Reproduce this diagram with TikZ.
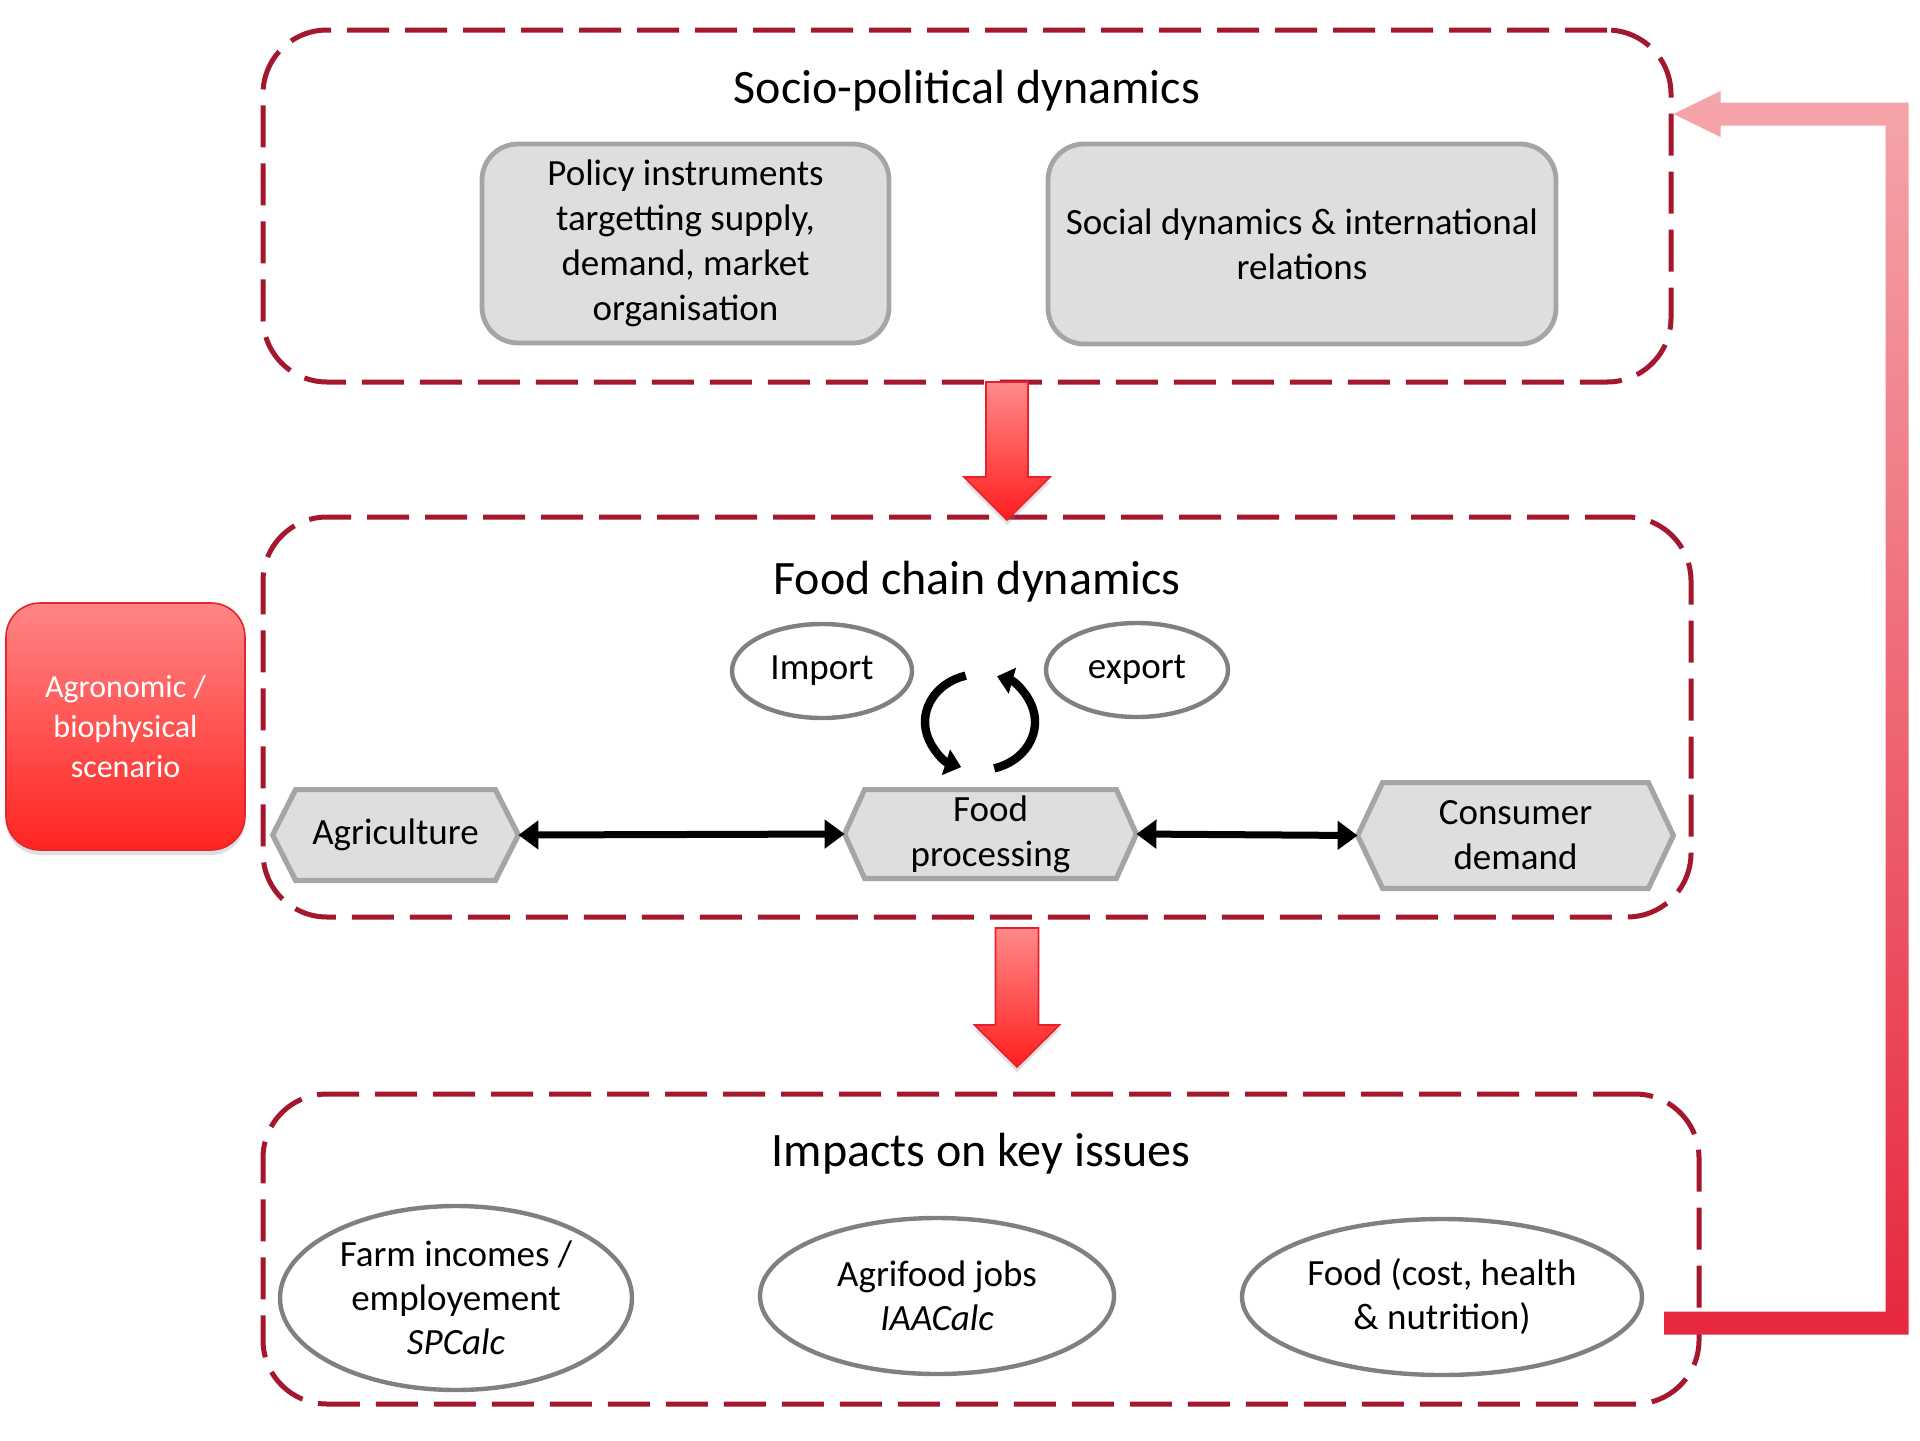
\documentclass[tikz,border=0pt]{standalone}
\usepackage{fontspec}
\setmainfont{Carlito}
\usetikzlibrary{arrows.meta,calc,shapes.geometric,shadows,backgrounds}
\definecolor{dashred}{HTML}{A5172C}
\definecolor{gfill}{HTML}{DEDEDE}
\definecolor{gborder}{HTML}{A5A5A5}
\definecolor{egray}{HTML}{808080}
\definecolor{barrowtop}{HTML}{FF8A8A}
\definecolor{barrowbot}{HTML}{FF1E1E}
\definecolor{barrowline}{HTML}{E8202E}
\definecolor{agtop}{HTML}{FF8585}
\definecolor{agbot}{HTML}{FF2420}
\definecolor{agline}{HTML}{E0262E}
\definecolor{fbtop}{HTML}{F5A5AB}
\definecolor{fbbot}{HTML}{E6283D}
\newcommand\hexpath[2]{%
  \path[hexshape] (#1.west) -- ([xshift=#2]#1.north west) -- ([xshift=-#2]#1.north east)
    -- (#1.east) -- ([xshift=-#2]#1.south east) -- ([xshift=#2]#1.south west) -- cycle;}
\begin{document}
\begin{tikzpicture}[x=0.5pt,y=-0.5pt,
  cont/.style={rectangle, draw=dashred, line width=2.5pt, dash pattern=on 21pt off 8pt, rounded corners=32pt, inner sep=0pt},
  title/.style={font=\fontsize{24}{29}\selectfont, inner sep=0pt},
  gbox/.style={rectangle, draw=gborder, fill=gfill, line width=2.4pt, rounded corners=18pt, align=center, font=\fontsize{18.5}{22.5}\selectfont, inner sep=0pt},
  ell/.style={ellipse, draw=egray, line width=2.2pt, fill=white, align=center, font=\fontsize{18.5}{22}\selectfont, inner sep=0pt},
  hexnode/.style={rectangle, inner sep=0pt, align=center, font=\fontsize{18.5}{22.5}\selectfont},
  hexshape/.style={draw=gborder, fill=gfill, line width=2.6pt, line join=miter},
  dbl/.style={{Triangle[length=10pt,width=14pt]}-{Triangle[length=10pt,width=14pt]}, line width=3.5pt},
  cycarrow/.style={-{Triangle[length=8pt,width=13pt]}, line width=4.2pt},
  blockarrow/.style={top color=barrowtop, bottom color=barrowbot, draw=barrowline, line width=0.8pt,
     drop shadow={shadow xshift=0pt, shadow yshift=-2.5pt, opacity=0.25}},
  fbarrow/.style={top color=fbtop, bottom color=fbbot},
]
\useasboundingbox (0,0) rectangle (1920,1440);

% containers
\node[cont, minimum width=704pt, minimum height=176pt] (top) at (967,206) {};
\node[cont, minimum width=714pt, minimum height=200pt] (mid) at (977,717) {};
\node[cont, minimum width=718pt, minimum height=155pt] (bot) at (981,1249) {};

\node[title] (toptitle) at (967,91) {Socio-political dynamics};
\node[title] (midtitle) at (977,582) {Food chain dynamics};
\node[title] (bottitle) at (981,1154) {Impacts on key issues};

% top boxes
\node[gbox, minimum width=203.5pt, minimum height=99.5pt] (policy) at (685.5,243.5)
  {Policy instruments\\targetting supply,\\demand, market\\organisation};
\node[gbox, minimum width=254pt, minimum height=100pt] (social) at (1302,244)
  {Social dynamics \& international\\relations};

% agronomic
\node[rectangle, rounded corners=17pt, top color=agtop, bottom color=agbot, draw=agline, line width=0.8pt,
  minimum width=119.5pt, minimum height=123.5pt, inner sep=0pt, align=center, text=white,
  font=\fontsize{16}{20}\selectfont,
  drop shadow={shadow xshift=0pt, shadow yshift=-2.5pt, opacity=0.25}] (agro) at (125.5,726.5)
  {Agronomic /\\biophysical\\scenario};

% import / export
\node[ell, minimum width=90pt, minimum height=47pt] (imp) at (822,671) {Import};
\node[ell, minimum width=91pt, minimum height=47pt] (exp) at (1137,670) {export};

% cycle
\coordinate (cyc) at (980,722);
\draw[cycarrow] ([shift={(105:27.5pt and 24pt)}]cyc) arc[start angle=105, end angle=250, x radius=27.5pt, y radius=24pt];
\draw[cycarrow] ([shift={(-75:27.5pt and 24pt)}]cyc) arc[start angle=-75, end angle=72, x radius=27.5pt, y radius=24pt];

% hexagon nodes
\node[hexnode, minimum width=122.5pt, minimum height=45pt] (agri) at (395.5,835) {Agriculture};
\node[hexnode, minimum width=145.5pt, minimum height=44pt] (food) at (990.5,834) {Food\\processing};
\node[hexnode, minimum width=157.5pt, minimum height=52.5pt] (cons) at (1515.5,835.5) {Consumer\\demand};
\begin{pgfonlayer}{background}
  \fill[white] (0,0) rectangle (1920,1440);
  \hexpath{agri}{11.5pt}
  \hexpath{food}{10pt}
  \hexpath{cons}{12.5pt}
\end{pgfonlayer}

\draw[dbl] (agri.east) -- (food.west);
\draw[dbl] (food.east) -- (cons.west);

% impacts
\node[ell, minimum width=176pt, minimum height=92pt] (farm) at (456,1298)
  {Farm incomes /\\employement\\\textit{SPCalc}};
\node[ell, minimum width=177pt, minimum height=78pt] (jobs) at (937,1296)
  {Agrifood jobs\\\textit{IAACalc}};
\node[ell, minimum width=200pt, minimum height=78pt] (foodi) at (1442,1297)
  {Food (cost, health\\\& nutrition)};

% block arrows
\coordinate (a1s) at (1007,382);
\coordinate (a1e) at (1007,520);
\path[blockarrow] ($(a1s)+(-21,0)$) -- ($(a1s)+(21,0)$) -- ($(a1e)+(21,-43)$) -- ($(a1e)+(43,-43)$)
  -- (a1e) -- ($(a1e)+(-43,-43)$) -- ($(a1e)+(-21,-43)$) -- cycle;
\coordinate (a2s) at (1017,928);
\coordinate (a2e) at (1017,1067);
\path[blockarrow] ($(a2s)+(-21.5,0)$) -- ($(a2s)+(21.5,0)$) -- ($(a2e)+(21.5,-42)$) -- ($(a2e)+(42.5,-42)$)
  -- (a2e) -- ($(a2e)+(-42.5,-42)$) -- ($(a2e)+(-21.5,-42)$) -- cycle;

% feedback arrow
\coordinate (fbS) at (1664,1323);
\coordinate (fbE) at (top.east |- 0,114);
\path[fbarrow] ($(fbS)+(0,-11.5)$) -- (1885.5,1311.5) -- (1885.5,125.5) -- ($(fbE)+(47,11.5)$)
  -- ($(fbE)+(47,23)$) -- (fbE) -- ($(fbE)+(47,-23)$) -- ($(fbE)+(47,-11.5)$)
  -- (1908.5,102.5) -- (1908.5,1334.5) -- ($(fbS)+(0,11.5)$) -- cycle;
\end{tikzpicture}
\end{document}
